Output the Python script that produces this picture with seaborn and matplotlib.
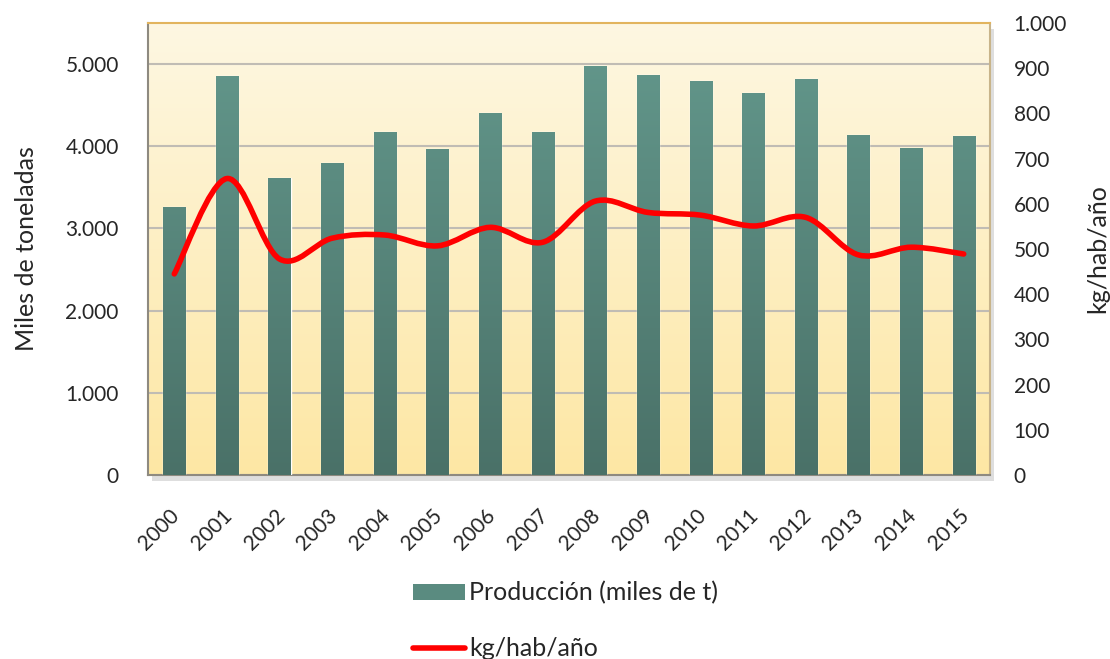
import numpy as np
import pandas as pd
import matplotlib.pyplot as plt
import seaborn as sns
from matplotlib.path import Path
from matplotlib.patches import PathPatch, Rectangle, Patch
from matplotlib.lines import Line2D
from matplotlib.colors import LinearSegmentedColormap
from matplotlib.ticker import FuncFormatter, MultipleLocator
from matplotlib.transforms import ScaledTranslation

# data
years = ['2000', '2001', '2002', '2003', '2004', '2005', '2006', '2007',
         '2008', '2009', '2010', '2011', '2012', '2013', '2014', '2015']
produccion = [3260, 4860, 3620, 3800, 4180, 3970, 4400, 4170,
              4980, 4870, 4800, 4650, 4820, 4140, 3980, 4120]
kg_hab = [445, 656, 478, 524, 531, 507, 548, 515,
          606, 581, 575, 551, 570, 487, 504, 489]

df = pd.DataFrame({'year': years, 'prod': produccion, 'kg': kg_hab})

sns.set_style('white')
plt.rcParams['font.family'] = ['Lato', 'DejaVu Sans']

fig = plt.figure(figsize=(11.1, 6.59), dpi=100)
ax = fig.add_axes([0.1333, 0.2792, 0.7586, 0.6858])

# shadow behind the plot area
fig.patches.append(Rectangle((0.1333 + 0.004, 0.2792 - 0.009), 0.7586, 0.6858,
                             transform=fig.transFigure, facecolor='#c8c8c8',
                             edgecolor='none', alpha=0.6, zorder=-5))

# background gradient
bg = LinearSegmentedColormap.from_list('bg', ['#fde7a4', '#fef7e2'])
ax.imshow(np.linspace(0, 1, 256).reshape(-1, 1), cmap=bg, origin='lower',
          aspect='auto', extent=[0, 1, 0, 1], transform=ax.transAxes, zorder=0)

sns.barplot(data=df, x='year', y='prod', color='#5f9488', width=0.42,
            saturation=1, ax=ax, zorder=3)

ax.set_ylim(0, 5500)
ax.set_xlim(-0.5, len(years) - 0.5)

# gradient fill of the bars
bar_cmap = LinearSegmentedColormap.from_list('bar', ['#4a7168', '#64998d'])
for p in ax.patches:
    x0, y0 = p.get_x(), p.get_y()
    w, h = p.get_width(), p.get_height()
    im = ax.imshow(np.linspace(0, 1, 256).reshape(-1, 1), cmap=bar_cmap,
                   origin='lower', aspect='auto',
                   extent=[x0, x0 + w, 0, 5500], zorder=3.5)
    im.set_clip_path(p)

ax.yaxis.set_major_locator(MultipleLocator(1000))
ax.yaxis.set_major_formatter(FuncFormatter(lambda v, _: f'{int(v):,}'.replace(',', '.')))
ax.grid(axis='y', color='#c0bcb4', linewidth=1.5, zorder=1)
ax.set_axisbelow(True)
ax.tick_params(axis='y', labelsize=15, pad=21, length=0)
ax.tick_params(axis='x', labelsize=15, pad=22, length=0)
shift = ScaledTranslation(-0.05, 0, fig.dpi_scale_trans)
for lbl in ax.get_xticklabels():
    lbl.set_rotation(45)
    lbl.set_ha('right')
    lbl.set_rotation_mode('anchor')
    lbl.set_transform(lbl.get_transform() + shift)
ax.set_xlabel('')
ax.set_ylabel('Miles de toneladas', fontsize=18, labelpad=20)

for side in ['left', 'bottom']:
    ax.spines[side].set_color('#8e8a80')
    ax.spines[side].set_linewidth(1.5)
ax.spines['top'].set_color('#e2b45e')
ax.spines['top'].set_linewidth(1.5)
ax.spines['right'].set_color('#c8b48a')
ax.spines['right'].set_linewidth(1.5)

# second axis with the smoothed per-capita line
ax2 = ax.twinx()
ax2.set_ylim(0, 1000)
ax2.yaxis.set_major_locator(MultipleLocator(100))
ax2.yaxis.set_major_formatter(FuncFormatter(lambda v, _: f'{int(v):,}'.replace(',', '.')))
ax2.tick_params(axis='y', labelsize=15, pad=17, length=0)
ax2.set_ylabel('kg/hab/año', fontsize=18, labelpad=14)
for s in ax2.spines.values():
    s.set_visible(False)

# smoothed curve (Catmull-Rom as bezier segments, like Excel's smoothed line)
xs = np.arange(len(kg_hab), dtype=float)
ys = np.array(kg_hab, dtype=float)
pts = np.column_stack([xs, ys])
verts = [pts[0]]
codes = [Path.MOVETO]
for i in range(len(pts) - 1):
    p0 = pts[i - 1] if i > 0 else pts[i]
    p1, p2 = pts[i], pts[i + 1]
    p3 = pts[i + 2] if i + 2 < len(pts) else pts[i + 1]
    c1 = p1 + (p2 - p0) / 6
    c2 = p2 - (p3 - p1) / 6
    verts += [c1, c2, p2]
    codes += [Path.CURVE4] * 3
ax2.add_patch(PathPatch(Path(verts, codes), facecolor='none', edgecolor='#ff0000',
                        linewidth=4, capstyle='round', joinstyle='round', zorder=5))

handles = [Patch(facecolor='#5a8b80', edgecolor='none'),
           Line2D([], [], color='#ff0000', linewidth=4)]
fig.legend(handles, ['Producción (miles de t)', 'kg/hab/año'],
           loc='upper left', bbox_to_anchor=(0.363, 0.133), frameon=False,
           fontsize=18, handlelength=2.1, handleheight=0.6, handletextpad=0.15,
           labelspacing=1.3, borderaxespad=0)

fig.savefig('out.png', dpi=100)
